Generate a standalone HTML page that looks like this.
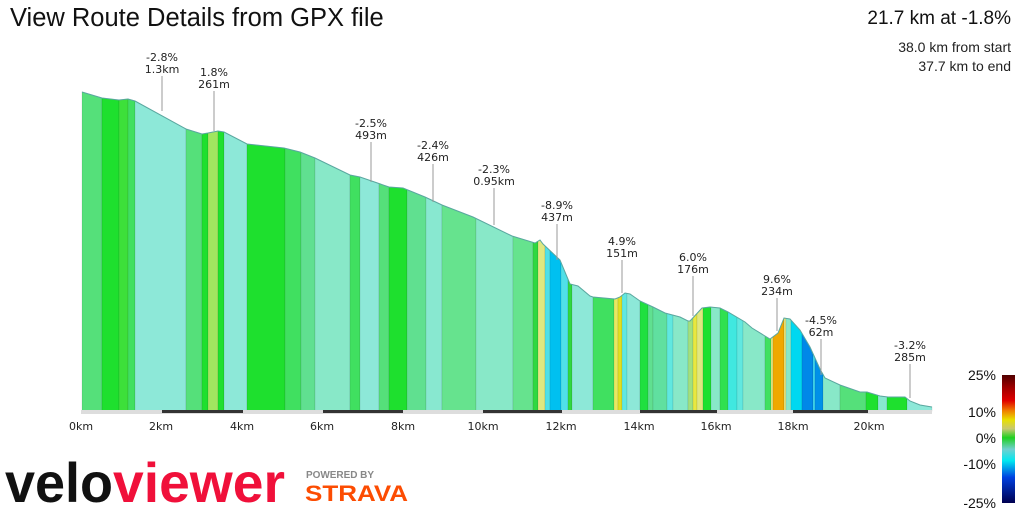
<!DOCTYPE html>
<html><head><meta charset="utf-8"><style>
body{margin:0;width:1024px;height:512px;background:#fff;overflow:hidden;font-family:"Liberation Sans",sans-serif;position:relative}
.t{position:absolute;white-space:nowrap}
</style></head><body>
<div class="t" style="left:10px;top:4px;font-size:25.5px;color:#111">View Route Details from GPX file</div>
<div class="t" style="right:13px;top:8px;font-size:19px;color:#111;text-align:right">21.7 km at -1.8%</div>
<div class="t" style="right:13px;top:38px;font-size:14px;color:#222;text-align:right;line-height:19px">38.0 km from start<br>37.7 km to end</div>
<svg id="s" width="1024" height="512" style="position:absolute;left:0;top:0">
<defs><linearGradient id="g" x1="0" y1="0" x2="0" y2="1">
<stop offset="0" stop-color="#500000"/><stop offset="0.1" stop-color="#a00000"/><stop offset="0.2" stop-color="#e00000"/><stop offset="0.28" stop-color="#f08000"/><stop offset="0.35" stop-color="#e8e000"/><stop offset="0.42" stop-color="#c8c870"/><stop offset="0.49" stop-color="#20d020"/><stop offset="0.58" stop-color="#70d0d0"/><stop offset="0.67" stop-color="#00e8f0"/><stop offset="0.8" stop-color="#0040e0"/><stop offset="1" stop-color="#000050"/></linearGradient></defs>
<rect x="1002" y="375" width="13" height="128" fill="url(#g)"/>
<g font-size="14" fill="#111" text-anchor="end">
<text x="996" y="380">25%</text><text x="996" y="417">10%</text><text x="996" y="443">0%</text><text x="996" y="469">-10%</text><text x="996" y="508">-25%</text></g>
<g id="chart"></g>
<g font-weight="bold" font-family="Liberation Sans,sans-serif">
<text x="5" y="502" font-size="56" fill="#111" textLength="108" lengthAdjust="spacingAndGlyphs">velo</text>
<text x="113" y="502" font-size="56" fill="#f0103a" textLength="172" lengthAdjust="spacingAndGlyphs">viewer</text>
<text x="306" y="478" font-size="10" fill="#888" textLength="68" lengthAdjust="spacing">POWERED BY</text>
<text x="305" y="501" font-size="22" fill="#fc4c02" textLength="103" lengthAdjust="spacingAndGlyphs">STRAVA</text></g>
</svg>
<script>
var P=[[82,92],[102,98],[119,100],[128,99],[135,101],[186,129],[202,134],[208,133],[218,131],[224,132],[247,144],[284,148],[300,152],[315,158],[350,175],[360,177],[389,187],[403,188],[425,197],[442,205],[473,217],[512,236],[535,243],[540,240],[543,244],[560,260],[570,284],[578,286],[590,296],[593,297],[615,299],[620,297],[625,293],[630,294],[640,301],[653,307],[665,313],[680,317],[688,321],[690,321],[702,308],[710,307],[720,308],[728,312],[745,322],[752,328],[765,336],[770,339],[778,333],[784,318],[790,319],[800,330],[810,347],[820,369],[825,378],[840,385],[860,392],[867,392],[880,396],[888,397],[905,397],[910,401],[920,405],[932,407]];
function Y(x){for(var i=0;i<P.length-1;i++){if(x>=P[i][0]&&x<=P[i+1][0]){var t=(x-P[i][0])/(P[i+1][0]-P[i][0]);return P[i][1]+t*(P[i+1][1]-P[i][1]);}}return P[P.length-1][1];}
var S=[[82,"#55e07a"],[102,"#1ee02e"],[119,"#3de03a"],[128,"#40e060"],[135,"#8de8d8"],[186,"#55e07a"],[202,"#1ee02e"],[208,"#a0e660"],[218,"#1ee02e"],[224,"#8de8d8"],[247,"#1ee02e"],[285,"#40e060"],[301,"#60e090"],[315,"#88e8c8"],[350,"#40e060"],[360,"#8de8d8"],[379,"#55e07a"],[389,"#1ee02e"],[407,"#60e090"],[426,"#88e8d0"],[442,"#66e38e"],[476,"#88e8c8"],[513,"#66e38e"],[533,"#30d840"],[538,"#e0e880"],[545,"#50e0e8"],[550,"#00c0f0"],[561,"#50e0e8"],[568,"#30d840"],[572,"#8de8d8"],[593,"#40e060"],[614,"#e8e860"],[618,"#e0e020"],[622,"#60e8e0"],[627,"#8de8d8"],[640,"#20e040"],[648,"#60e090"],[653,"#60e0a0"],[667,"#60e8e0"],[673,"#88e8c8"],[688,"#a0e080"],[693,"#e8e840"],[697,"#e0e880"],[703,"#1ee02e"],[711,"#88e8c8"],[720,"#30e050"],[728,"#40e8e0"],[737,"#60e8e0"],[743,"#88e8c8"],[765,"#40e060"],[771,"#e8e880"],[773,"#f0a800"],[784,"#e8e880"],[786,"#88e8c8"],[791,"#00d8f0"],[802,"#0088e8"],[813,"#40d8f0"],[815,"#0090e8"],[823,"#88e8c8"],[840,"#55e07a"],[866,"#1ee02e"],[878,"#88e8d0"],[887,"#1ee02e"],[907,"#8de8d8"],[932,""]];
var h="",B=411;
for(var i=0;i<S.length-1;i++){var a=S[i][0],b=S[i+1][0],pts=[[a,B],[a,Y(a)]];P.forEach(function(p){if(p[0]>a&&p[0]<b)pts.push(p)});pts.push([b,Y(b)],[b,B]);
h+='<polygon points="'+pts.map(function(p){return p[0]+","+p[1].toFixed(1)}).join(" ")+'" fill="'+S[i][1]+'" stroke="rgba(0,0,0,0.12)" stroke-width="0.7"/>';}
h+='<polyline points="'+P.map(function(p){return p.join(",")}).join(" ")+'" fill="none" stroke="#5aa8a0" stroke-width="1"/>';
h+='<rect x="81" y="410" width="851" height="4" fill="#ddd"/>';
[[162,243],[323,403],[483,562],[640,717],[793,868]].forEach(function(d){h+='<rect x="'+d[0]+'" y="410" width="'+(d[1]-d[0])+'" height="3" fill="#333"/>'});
var L=[[0,81],[2,161],[4,242],[6,322],[8,403],[10,483],[12,561],[14,639],[16,716],[18,793],[20,869]];
L.forEach(function(l){h+='<text x="'+l[1]+'" y="430" font-size="11" fill="#222" text-anchor="middle" font-family="DejaVu Sans,sans-serif">'+l[0]+'km</text>'});
var A=[[162,"-2.8%","1.3km",62,111],[214,"1.8%","261m",77,131],[371,"-2.5%","493m",128,182],[433,"-2.4%","426m",150,202],[494,"-2.3%","0.95km",174,225],[557,"-8.9%","437m",210,260],[622,"4.9%","151m",246,293],[693,"6.0%","176m",262,316],[777,"9.6%","234m",284,331],[821,"-4.5%","62m",325,375],[910,"-3.2%","285m",350,398]];
A.forEach(function(a){h+='<line x1="'+a[0]+'" y1="'+(a[3]+14)+'" x2="'+a[0]+'" y2="'+a[4]+'" stroke="#999"/>';
h+='<text x="'+a[0]+'" y="'+(a[3]-1)+'" font-size="11" fill="#222" text-anchor="middle" font-family="DejaVu Sans,sans-serif">'+a[1]+'</text><text x="'+a[0]+'" y="'+(a[3]+11)+'" font-size="11" fill="#222" text-anchor="middle" font-family="DejaVu Sans,sans-serif">'+a[2]+'</text>';});
document.getElementById("chart").innerHTML=h;
</script>
</body></html>
